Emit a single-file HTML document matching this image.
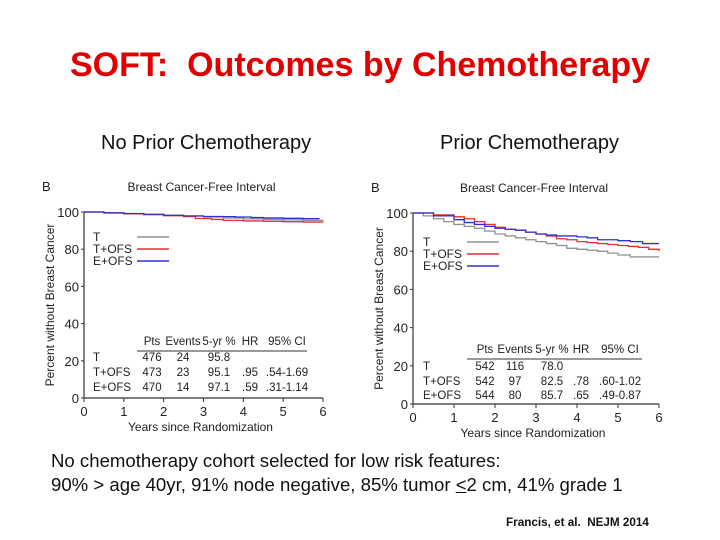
<!DOCTYPE html>
<html><head><meta charset="utf-8"><style>
body{margin:0;width:720px;height:540px;background:#fff;overflow:hidden;font-family:"Liberation Sans",sans-serif;}
#wrap{position:relative;width:720px;height:540px;}
.t{position:absolute;white-space:nowrap;}
svg text{font-family:"Liberation Sans",sans-serif;fill:#222;}
</style></head><body><div id="wrap">
<div class="t" style="left:0;width:720px;text-align:center;top:46px;font-size:34px;font-weight:bold;color:#e00000;font-family:'Liberation Sans',sans-serif;">SOFT:&nbsp; Outcomes by Chemotherapy</div>
<div class="t" style="left:101px;top:132px;font-size:20px;color:#111;">No Prior Chemotherapy</div>
<div class="t" style="left:440px;top:132px;font-size:20px;color:#111;">Prior Chemotherapy</div>
<svg id="svg" width="720" height="540" style="position:absolute;left:0;top:0"></svg>
<div class="t" style="left:51px;top:450px;font-size:18.6px;color:#111;">No chemotherapy cohort selected for low risk features:</div>
<div class="t" style="left:51px;top:474px;font-size:18.6px;color:#111;">90% &gt; age 40yr, 91% node negative, 85% tumor <u>&lt;</u>2 cm, 41% grade 1</div>
<div class="t" style="left:506px;top:516px;font-size:11.7px;font-weight:bold;color:#111;">Francis, et al.&nbsp; NEJM 2014</div>
</div>
<script>
const xTicks=[0,1,2,3,4,5,6];
const yTicks=[0,20,40,60,80,100];
const seriesNames=["T","T+OFS","E+OFS"];
const seriesColors=["#909090","#e03030","#3030d0"];
const leftYears=[[0,0.5,1,1.5,2,2.5,3,3.5,4,4.5,5,5.5,6],[0,0.5,1,1.5,2,2.5,2.8,3.2,3.5,4,4.5,5,5.5,6],[0,0.5,1,1.5,2,2.5,3,3.5,3.8,4.2,4.5,5,5.5,5.9]];
const leftVals=[[100,99.5,99,98.6,98.3,97.8,97.3,96.8,96.3,96,95.8,95.5,95.3],[100,99.5,99,98.6,98,97.5,96.5,96,95.5,95.2,95,94.8,94.6,94.5],[100,99.6,99.2,98.8,98.2,97.9,97.6,97.5,97.3,97,96.8,96.6,96.4,96.2]];
const rightYears=[[0,0.25,0.5,0.75,1,1.25,1.5,1.75,2,2.25,2.5,2.75,3,3.25,3.5,3.75,4,4.25,4.5,4.75,5,5.3,6],[0,0.5,1,1.25,1.5,1.75,2,2.25,2.5,2.75,3,3.25,3.5,3.75,4,4.25,4.5,4.75,5,5.25,5.5,5.75,6],[0,0.5,1,1.25,1.5,1.75,2,2.25,2.5,2.75,3,3.25,3.5,3.75,4,4.25,4.5,4.75,5,5.3,5.6,6]];
const rightVals=[[100,98.5,97,95.5,94,93,92,90.5,89,88,87,86,85,84,83,81.5,81,80.5,80,79,78,77,77],[100,99,98,97,95.5,94,92.5,91.5,91,90,89,88,86.5,86,85,84.5,84,83.5,83,82.5,82,81,80],[100,98.5,96.5,95,94,93,92,91.5,91,90,89,88.5,88,88,87.5,87,86,86,85.5,85,84,84]];
const leftTable=[["T","476","24","95.8","",""],["T+OFS","473","23","95.1",".95",".54-1.69"],["E+OFS","470","14","97.1",".59",".31-1.14"]];
const rightTable=[["T","542","116","78.0","",""],["T+OFS","542","97","82.5",".78",".60-1.02"],["E+OFS","544","80","85.7",".65",".49-0.87"]];
const svg=document.getElementById('svg');const NS="http://www.w3.org/2000/svg";
function mk(tag,at,txt){const e=document.createElementNS(NS,tag);for(const k in at)e.setAttribute(k,at[k]);if(txt!==undefined)e.textContent=txt;svg.appendChild(e);return e;}
function chart(c){
 const X=v=>c.x0+(c.x1-c.x0)*v/6, Y=v=>c.y0-(c.y0-c.y1)*v/100;
 let e=mk('text',{x:c.x0-42,y:c.y1-21,'font-size':13},'B');
 e=mk('text',{x:(c.x0+c.x1)/2-2,y:c.y1-21,'font-size':12,'text-anchor':'middle'},'Breast Cancer-Free Interval');
 e=mk('line',{x1:c.x0,y1:c.y1,x2:c.x0,y2:c.y0,stroke:'#333','stroke-width':1.2});
 e=mk('line',{x1:c.x0,y1:c.y0,x2:c.x1,y2:c.y0,stroke:'#333','stroke-width':1.2});
 yTicks.forEach(v=>{e=mk('line',{x1:c.x0-3,y1:Y(v),x2:c.x0,y2:Y(v),stroke:'#333'});
  e=mk('text',{x:c.x0-5,y:Y(v)+5,'font-size':13,'text-anchor':'end'},v);});
 xTicks.forEach(v=>{e=mk('line',{x1:X(v),y1:c.y0,x2:X(v),y2:c.y0+4,stroke:'#333'});
  e=mk('text',{x:X(v),y:c.y0+18,'font-size':13,'text-anchor':'middle'},v);});
 e=mk('text',{x:(c.x0+c.x1)/2-3,y:c.y0+33,'font-size':12,'text-anchor':'middle'},'Years since Randomization');
 const my=(c.y0+c.y1)/2;e=mk('text',{x:c.x0-30,y:my,'font-size':12,'text-anchor':'middle',transform:`rotate(-90 ${c.x0-30} ${my})`},'Percent without Breast Cancer');
 c.years.forEach((ys,i)=>{let d='M'+X(ys[0])+' '+Y(c.vals[i][0]);for(let j=1;j<ys.length;j++){d+=' H'+X(ys[j])+' V'+Y(c.vals[i][j]);}
  e=mk('path',{d:d,fill:'none',stroke:seriesColors[i],'stroke-width':1.3});});
 seriesNames.forEach((n,i)=>{const ly=c.ly+i*12;e=mk('text',{x:c.lx,y:ly+4,'font-size':12},n);
  e=mk('line',{x1:c.lx+44,y1:ly,x2:c.lx+76,y2:ly,stroke:seriesColors[i],'stroke-width':1.5});});
 const cols=c.cols;const hdr=['Pts','Events','5-yr %','HR','95% CI'];
 hdr.forEach((h,i)=>{e=mk('text',{x:cols[i+1],y:c.ty,'font-size':11.5,'text-anchor':'middle'},h);});
 e=mk('line',{x1:c.rx0,y1:c.ty+6,x2:c.rx1,y2:c.ty+6,stroke:'#333'});
 c.table.forEach((r,ri)=>r.forEach((v,i)=>{e=mk('text',{x:i?cols[i]:c.lx,y:c.ty+c.rows[ri],'font-size':11.5,'text-anchor':i?'middle':'start'},v);}));
}
chart({p:'left',x0:84,x1:323,y0:398,y1:212,years:leftYears,vals:leftVals,lx:93,ly:237,ty:345,rows:[16,31,46],rx0:137,rx1:307,cols:[0,152,183,219,250,287],table:leftTable});
chart({p:'right',x0:413,x1:659,y0:404,y1:213,years:rightYears,vals:rightVals,lx:423,ly:242,ty:353,rows:[17,32,46],rx0:467,rx1:642,cols:[0,485,515,552,581,620],table:rightTable});
</script></body></html>
